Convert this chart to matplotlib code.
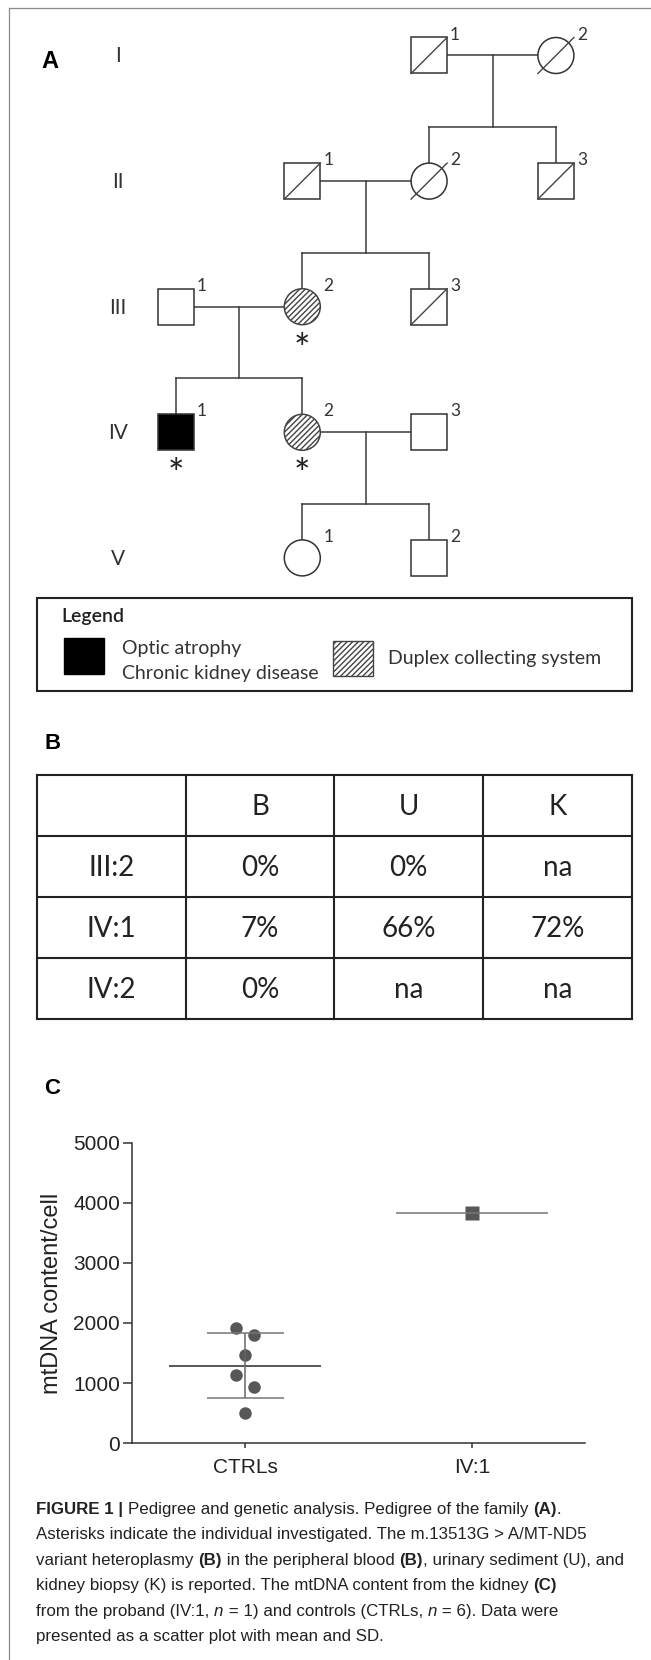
import numpy as np
import matplotlib
matplotlib.use("Agg")
import matplotlib.pyplot as plt
from matplotlib.patches import Rectangle, Ellipse

W, H = 651, 1660

# ---------------- data ----------------
generations = ["I", "II", "III", "IV", "V"]

# id, sex, deceased, phenotype, investigated
people = [
    ("I:1", "m", True, None, False),
    ("I:2", "f", True, None, False),
    ("II:1", "m", True, None, False),
    ("II:2", "f", True, None, False),
    ("II:3", "m", True, None, False),
    ("III:1", "m", False, None, False),
    ("III:2", "f", False, "duplex", True),
    ("III:3", "m", True, None, False),
    ("IV:1", "m", False, "optic", True),
    ("IV:2", "f", False, "duplex", True),
    ("IV:3", "m", False, None, False),
    ("V:1", "f", False, None, False),
    ("V:2", "m", False, None, False),
]
couples = [("I:1", "I:2"), ("II:1", "II:2"), ("III:1", "III:2"), ("IV:2", "IV:3")]
offspring = [["II:2", "II:3"], ["III:2", "III:3"], ["IV:1", "IV:2"], ["V:1", "V:2"]]

legend_items = [("optic", ["Optic atrophy", "Chronic kidney disease"]),
                ("duplex", ["Duplex collecting system"])]

table_cols = ["", "B", "U", "K"]
table_rows = ["III:2", "IV:1", "IV:2"]
table_vals = [["0%", "0%", "na"],
              ["7%", "66%", "72%"],
              ["0%", "na", "na"]]

groups = ["CTRLs", "IV:1"]
ctrl_vals = [1917, 1800, 1467, 1133, 933, 500]
proband_vals = [3833]

caption = [
    [("FIGURE 1 | ", "b"), ("Pedigree and genetic analysis. Pedigree of the family ", "r"),
     ("(A)", "b"), (".", "r")],
    [("Asterisks indicate the individual investigated. The m.13513G > A/MT-ND5", "r")],
    [("variant heteroplasmy ", "r"), ("(B)", "b"), (" in the peripheral blood ", "r"),
     ("(B)", "b"), (", urinary sediment (U), and", "r")],
    [("kidney biopsy (K) is reported. The mtDNA content from the kidney ", "r"), ("(C)", "b")],
    [("from the proband (IV:1, ", "r"), ("n", "i"), (" = 1) and controls (CTRLs, ", "r"),
     ("n", "i"), (" = 6). Data were", "r")],
    [("presented as a scatter plot with mean and SD.", "r")],
]

# ---------------- layout ----------------
slot = {"I:1": (0, 2), "I:2": (0, 3), "II:1": (1, 1), "II:2": (1, 2), "II:3": (1, 3),
        "III:1": (2, 0), "III:2": (2, 1), "III:3": (2, 2),
        "IV:1": (3, 0), "IV:2": (3, 1), "IV:3": (3, 2), "V:1": (4, 1), "V:2": (4, 2)}
X0, DX, Y0, DY, S = 175.5, 126.8, 55.5, 125.6, 36
ctrl_jitter = [-0.042, 0.04, 0.0, -0.042, 0.04, 0.0]

PED = "Lato"
SANS = "Liberation Sans"
LC = "#3a3a3a"

fig = plt.figure(figsize=(W / 100, H / 100), dpi=100)
ax = fig.add_axes([0, 0, 1, 1])
ax.set_xlim(0, W)
ax.set_ylim(H, 0)
ax.axis("off")
renderer = fig.canvas.get_renderer()

# frame
ax.plot([9, 9], [8, H], color="#8a8a8a", lw=0.9)
ax.plot([9, W], [8, 8], color="#8a8a8a", lw=0.9)


def pos(pid):
    g, c = slot[pid]
    return X0 + c * DX, Y0 + g * DY


# ---------------- panel A ----------------
ax.text(50, 62, "A", fontsize=17, fontweight="bold", family=SANS, ha="center", va="center")
for g, lab in enumerate(generations):
    ax.text(118, Y0 + g * DY + 1, lab, fontsize=15, family=PED, color="#333",
            ha="center", va="center")

for a, b in couples:
    xa, ya = pos(a)
    xb, yb = pos(b)
    ax.plot([xa + S / 2, xb - S / 2], [ya, ya], color=LC, lw=1.1)

for (a, b), kids in zip(couples, offspring):
    xa, ya = pos(a)
    xb, _ = pos(b)
    xm = (xa + xb) / 2
    kx = [pos(k)[0] for k in kids]
    ky = pos(kids[0])[1]
    ysib = ky - 54
    ax.plot([xm, xm], [ya, ysib], color=LC, lw=1.1)
    ax.plot([min(kx), max(kx)], [ysib, ysib], color=LC, lw=1.1)
    for x in kx:
        ax.plot([x, x], [ysib, ky - S / 2], color=LC, lw=1.1)

for pid, sex, dead, pheno, inv in people:
    x, y = pos(pid)
    face = "black" if pheno == "optic" else "white"
    hatch = "//////" if pheno == "duplex" else None
    edge = "#444" if pheno == "duplex" else "#333"
    if sex == "m":
        p = Rectangle((x - S / 2, y - S / 2), S, S, facecolor=face, edgecolor=edge,
                      hatch=hatch, lw=1.1, zorder=3)
    else:
        p = Ellipse((x, y), S, S, facecolor=face, edgecolor=edge, hatch=hatch,
                    lw=1.1, zorder=3)
    ax.add_patch(p)
    if dead:
        ax.plot([x - S / 2, x + S / 2], [y + S / 2, y - S / 2], color="#444", lw=1.0, zorder=4)
    ax.text(x + S / 2 + 3, y - S / 2 - 3, pid.split(":")[1], fontsize=12.5, family=PED,
            color="#333", ha="left", va="center")
    if inv:
        ax.text(x, y + S / 2 + 37, "*", fontsize=28, family=PED, color="#222",
                ha="center", va="baseline")

# legend box
ax.add_patch(Rectangle((36.5, 598), 595.5, 93, facecolor="none", edgecolor="#222", lw=1.5))
ax.text(61, 616, "Legend", fontsize=14, fontweight="semibold", family=PED, color="#222",
        ha="left", va="center")
leg_sw = [(64, 638), (333, 641)]
leg_tx = [(122, 648), (388, 658)]
for (pheno, lines), (sx, sy), (tx, ty) in zip(legend_items, leg_sw, leg_tx):
    if pheno == "optic":
        ax.add_patch(Rectangle((sx, sy), 40, 36, facecolor="black", edgecolor="black", lw=1))
    else:
        ax.add_patch(Rectangle((sx, sy), 40, 35, facecolor="white", edgecolor="#444",
                               hatch="//////", lw=1))
    for i, ln in enumerate(lines):
        ax.text(tx, ty + i * 25, ln, fontsize=14, family=PED, color="#333",
                ha="left", va="center")

# ---------------- panel B ----------------
ax.text(53, 743, "B", fontsize=16, fontweight="bold", family=SANS, ha="center", va="center")
tx_edges = [37, 186, 334, 483, 632]
ty_edges = [775, 836, 897, 958, 1019]
for xe in tx_edges:
    ax.plot([xe, xe], [ty_edges[0], ty_edges[-1]], color="#222", lw=1.5)
for ye in ty_edges:
    ax.plot([tx_edges[0], tx_edges[-1]], [ye, ye], color="#222", lw=1.5)
cells = [table_cols] + [[r] + v for r, v in zip(table_rows, table_vals)]
for i, row in enumerate(cells):
    for j, val in enumerate(row):
        ax.text((tx_edges[j] + tx_edges[j + 1]) / 2, (ty_edges[i] + ty_edges[i + 1]) / 2 + 1,
                val, fontsize=20, family=PED, color="#222", ha="center", va="center")

# ---------------- panel C ----------------
ax.text(52, 1088, "C", fontsize=16, fontweight="bold", family=SANS, ha="center", va="center")

ax2 = fig.add_axes([132 / W, (H - 1443) / H, (585 - 132) / W, 300 / H])
ax2.set_xlim(-0.5, 1.5)
ax2.set_ylim(0, 5000)
pc = "#575757"
ax2.plot(np.zeros(len(ctrl_vals)) + np.array(ctrl_jitter), ctrl_vals, "o", ms=9,
         color=pc, mec="none", clip_on=False)
m = np.mean(ctrl_vals)
sd = np.std(ctrl_vals, ddof=1)
ax2.hlines(m, -0.335, 0.335, color=pc, lw=1.4)
ax2.vlines(0, m - sd, m + sd, color="#666", lw=1.1)
ax2.hlines([m - sd, m + sd], -0.17, 0.17, color="#777", lw=1.1)
ax2.plot(np.ones(len(proband_vals)), proband_vals, "s", ms=9.4, color=pc, mec="none")
ax2.hlines(np.mean(proband_vals), 1 - 0.335, 1 + 0.335, color="#777", lw=1.1)

ax2.set_xticks(range(len(groups)))
ax2.set_xticklabels(groups)
ax2.set_yticks(range(0, 5001, 1000))
for sp in ["top", "right"]:
    ax2.spines[sp].set_visible(False)
for sp in ["left", "bottom"]:
    ax2.spines[sp].set_color("#333")
    ax2.spines[sp].set_linewidth(1.1)
ax2.tick_params(axis="y", length=6.5, width=1.1, pad=2.2, color="#333",
                labelsize=15, labelcolor="#222")
ax2.tick_params(axis="x", length=3.6, width=1.1, pad=7.5, color="#333",
                labelsize=15, labelcolor="#222")
for t in ax2.get_xticklabels() + ax2.get_yticklabels():
    t.set_family(SANS)
ax2.set_ylabel("mtDNA content/cell", fontsize=17, family=SANS, color="#222", va="center")
ax2.yaxis.set_label_coords((52 - 132) / (585 - 132), 0.5)

# ---------------- caption ----------------
styles = {"r": {}, "b": {"fontweight": "bold"}, "i": {"style": "italic"}}


def run_width(s, kw):
    t = ax.text(0, 0, "|" + s + "|", **kw)
    w1 = t.get_window_extent(renderer).width
    t.remove()
    t = ax.text(0, 0, "||", **kw)
    w0 = t.get_window_extent(renderer).width
    t.remove()
    return w1 - w0


for k, line in enumerate(caption):
    x = 36
    y = 1514 + 25.4 * k
    for s, st in line:
        kw = dict(fontsize=12.2, family=SANS, color="#222", **styles[st])
        ax.text(x, y, s, ha="left", va="baseline", **kw)
        x += run_width(s, kw)

fig.savefig("out.png", dpi=100)
